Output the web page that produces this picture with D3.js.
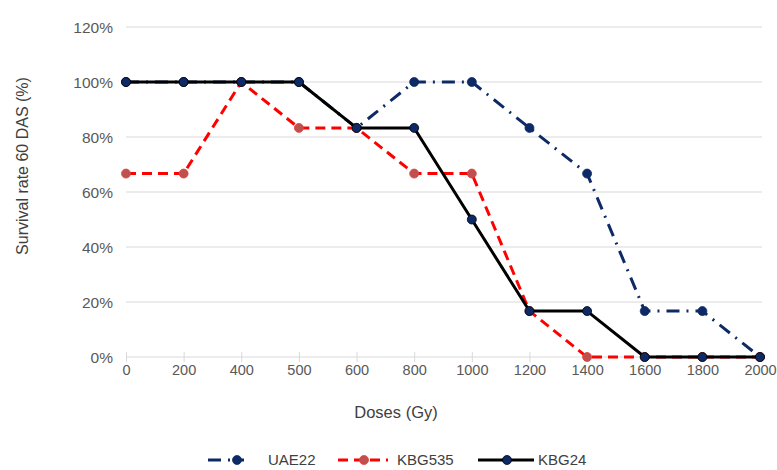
<!DOCTYPE html>
<html><head><meta charset="utf-8">
<script src="https://cdn.jsdelivr.net/npm/d3@7"></script>
<style>
body{margin:0;background:#fff;}
text{font-family:"Liberation Sans",Arial,sans-serif;}
</style></head>
<body>
<svg id="c" width="777" height="470"></svg>
<script>
const doses = ["0","200","400","500","600","800","1000","1200","1400","1600","1800","2000"];
const uae22 = [100,100,100,100,83.3,100,100,83.3,66.7,16.7,16.7,0];
const kbg535 = [66.7,66.7,100,83.3,83.3,66.7,66.7,16.7,0,0,0,0];
const kbg24 = [100,100,100,100,83.3,83.3,50,16.7,16.7,0,0,0];
const yTicks = [0,20,40,60,80,100,120];
const seriesNames = ["UAE22","KBG535","KBG24"];

const svg = d3.select("#c");
const x = d3.scalePoint().domain(doses).range([126,760]);
const y = d3.scaleLinear().domain([0,120]).range([357,27]);

// gridlines
svg.append("g").selectAll("line").data(yTicks.filter(d=>d>0)).join("line")
  .attr("x1",126).attr("x2",762).attr("y1",d=>y(d)).attr("y2",d=>y(d))
  .attr("stroke","#d9d9d9").attr("stroke-width",1);

// y axis labels
const ya = svg.append("g").attr("transform","translate(113,0)")
  .call(d3.axisLeft(y).tickValues(yTicks).tickSize(0).tickPadding(0).tickFormat(d=>d+"%"));
ya.select(".domain").remove();
ya.selectAll("text").attr("font-size",15.5).attr("fill","#595959").attr("dy","0.35em")
  .attr("font-family","'Liberation Sans',Arial,sans-serif");

// x axis
const xa = svg.append("g").attr("transform","translate(0,357)")
  .call(d3.axisBottom(x).tickSize(0).tickPadding(14));
xa.select(".domain").attr("stroke","#d9d9d9").attr("d","M126,0H762");
xa.selectAll(".tick line").remove();
xa.selectAll(".tick").append("line").attr("y1",-5).attr("y2",5).attr("stroke","#d9d9d9");
xa.selectAll("text").attr("font-size",14.5).attr("fill","#595959").attr("dy","0.3em")
  .attr("font-family","'Liberation Sans',Arial,sans-serif");

// axis titles
svg.append("text").attr("x",396).attr("y",412).attr("dy","0.35em").attr("text-anchor","middle")
  .attr("font-size",16.5).attr("fill","#404040").text("Doses (Gy)");
svg.append("text").attr("transform","translate(22,166) rotate(-90)").attr("dy","0.35em").attr("text-anchor","middle")
  .attr("font-size",16).attr("fill","#404040").text("Survival rate 60 DAS (%)");

const line = d3.line().x((d,i)=>x(doses[i])).y(d=>y(d));
const styles = [
  {data:uae22, stroke:"#0e2a66", dash:"13,7,2,7", fill:"#0e2a66", mstroke:"#0e2a66"},
  {data:kbg535, stroke:"#ff0000", dash:"10,6", fill:"#c0504d", mstroke:"#e04040"},
  {data:kbg24, stroke:"#000000", dash:null, fill:"#0e2a66", mstroke:"#000000"}
];
styles.forEach(s=>{
  const g = svg.append("g");
  g.append("path").datum(s.data).attr("d",line).attr("fill","none")
    .attr("stroke",s.stroke).attr("stroke-width",3).attr("stroke-dasharray",s.dash)
    .attr("stroke-linejoin","round");
  g.selectAll("circle").data(s.data).join("circle")
    .attr("cx",(d,i)=>x(doses[i])).attr("cy",d=>y(d)).attr("r",4.5)
    .attr("fill",s.fill).attr("stroke",s.mstroke).attr("stroke-width",0.8);
});

// legend
const leg = [
  {x0:208,x1:244,m:237,tx:268},
  {x0:338,x1:388,m:364,tx:397},
  {x0:478,x1:534,m:507,tx:538}
];
const ly = 460;
seriesNames.forEach((n,i)=>{
  const s = styles[i], L = leg[i];
  const g = svg.append("g");
  g.append("line").attr("x1",L.x0).attr("x2",L.x1).attr("y1",ly).attr("y2",ly)
    .attr("stroke",s.stroke).attr("stroke-width",3).attr("stroke-dasharray",s.dash);
  g.append("circle").attr("cx",L.m).attr("cy",ly).attr("r",4.5)
    .attr("fill",s.fill).attr("stroke",s.mstroke).attr("stroke-width",0.8);
  g.append("text").attr("x",L.tx).attr("y",ly).attr("dy","0.35em")
    .attr("font-size",15).attr("fill","#404040").text(n);
});
</script>
</body></html>
